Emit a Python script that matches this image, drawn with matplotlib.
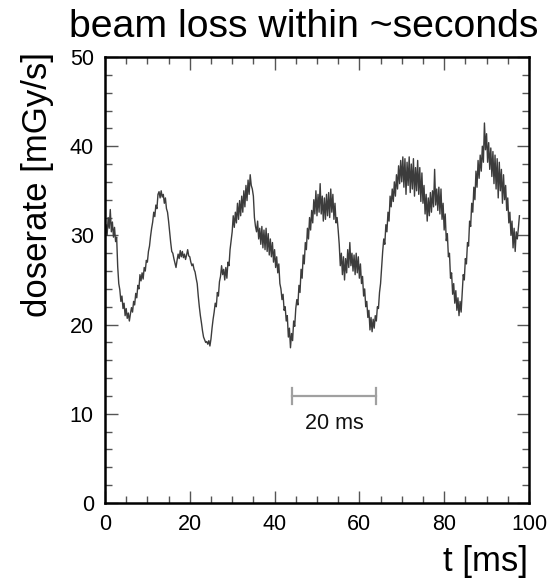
import numpy as np
import matplotlib
matplotlib.use("Agg")
import matplotlib.pyplot as plt
from matplotlib.ticker import MultipleLocator

plt.rcParams["font.family"] = ["Liberation Sans", "DejaVu Sans"]

# Dose rate samples, one every 0.25 ms (each row covers 5 ms)
dt_ms = 0.25
doserate = [
    29.6, 31.2, 30.0, 32.0, 30.8, 32.9, 30.4, 31.5, 29.8, 30.9, 29.3, 29.8, 26.5, 24.6, 23.9, 22.6, 23.2, 21.8, 22.4, 21.0,
    21.8, 20.7, 21.3, 20.4, 21.2, 21.9, 21.4, 22.6, 22.2, 23.5, 23.0, 24.4, 24.0, 25.6, 24.9, 25.8, 25.1, 26.4, 26.0, 27.2,
    27.0, 28.2, 28.8, 29.9, 30.8, 31.5, 32.6, 32.1, 33.4, 33.0, 34.6, 34.9, 34.2, 35.0, 34.3, 34.6, 33.6, 34.2, 33.0, 32.6,
    31.6, 30.4, 29.2, 28.2, 28.0, 27.4, 26.9, 26.4, 27.2, 27.9, 27.4, 28.3, 27.6, 28.2, 27.5, 27.9, 27.3, 27.8, 28.4, 27.7,
    27.6, 27.0, 26.6, 26.8, 26.2, 25.9, 25.2, 24.6, 23.2, 22.0, 21.0, 20.2, 19.3, 18.6, 18.3, 18.0, 18.1, 17.8, 18.2, 17.6,
    18.4, 19.6, 20.6, 21.4, 22.4, 22.0, 23.6, 23.2, 24.8, 25.4, 26.6, 25.6, 26.2, 25.0, 26.4, 25.2, 27.0, 26.6, 28.4, 29.4,
    30.4, 32.2, 30.9, 32.6, 31.4, 33.6, 31.8, 33.9, 32.2, 34.4, 32.6, 35.0, 33.2, 35.6, 33.9, 36.2, 34.6, 36.8, 35.6, 35.2,
    34.4, 32.0, 31.0, 30.4, 31.6, 29.6, 30.8, 29.0, 31.0, 28.6, 30.6, 28.4, 30.8, 28.2, 30.2, 27.8, 29.6, 27.6, 29.2, 27.0,
    28.4, 26.4, 27.6, 25.8, 26.8, 24.6, 24.0, 22.8, 23.4, 21.6, 22.0, 20.4, 21.0, 18.6, 19.6, 17.4, 19.0, 18.2, 20.4, 19.8,
    21.8, 22.8, 22.2, 24.4, 23.6, 26.2, 25.2, 27.8, 26.8, 29.2, 28.4, 30.8, 29.6, 32.0, 30.6, 32.8, 31.4, 34.0, 32.4, 35.0,
    32.2, 34.6, 32.6, 35.8, 32.4, 34.4, 31.6, 34.2, 31.8, 34.6, 32.2, 34.8, 32.0, 35.2, 32.6, 34.6, 31.8, 33.6, 31.4, 32.0,
    30.6, 29.0, 26.6, 28.0, 25.6, 27.6, 25.0, 27.4, 25.8, 28.4, 26.4, 29.2, 26.6, 28.0, 26.0, 27.8, 25.6, 28.0, 25.8, 27.6,
    25.2, 26.8, 24.6, 25.4, 23.2, 24.0, 22.0, 22.6, 20.8, 21.6, 19.4, 20.8, 19.2, 20.6, 19.6, 21.0, 20.4, 22.0, 21.8, 23.6,
    24.6, 26.4, 28.2, 29.6, 29.0, 31.2, 30.4, 32.6, 31.6, 34.4, 33.2, 35.2, 33.8, 36.0, 34.4, 36.8, 35.2, 37.8, 35.8, 38.4,
    36.0, 38.8, 35.4, 38.6, 34.6, 38.2, 35.6, 38.8, 34.8, 38.0, 35.2, 38.6, 34.4, 37.6, 35.0, 38.4, 34.6, 37.6, 33.8, 37.0,
    33.6, 35.6, 32.4, 34.6, 31.6, 34.2, 32.2, 34.8, 32.6, 35.0, 33.2, 37.4, 33.4, 35.2, 32.8, 35.4, 32.4, 35.2, 31.8, 33.6,
    30.6, 32.4, 29.4, 30.2, 27.6, 28.0, 25.2, 25.8, 23.4, 24.6, 22.4, 23.8, 21.6, 23.0, 21.0, 22.6, 21.4, 23.6, 25.6, 25.0,
    27.4, 26.8, 29.2, 28.8, 31.6, 31.0, 33.6, 32.6, 35.4, 34.0, 37.2, 35.4, 38.4, 36.4, 39.0, 37.2, 40.0, 38.2, 42.6, 39.6,
    41.4, 38.2, 40.4, 37.4, 39.8, 36.6, 39.4, 35.8, 39.0, 35.2, 38.6, 34.2, 38.2, 35.0, 37.4, 33.6, 36.8, 34.0, 35.6, 32.8,
    34.2, 31.4, 32.6, 30.0, 31.6, 28.6, 30.8, 28.2, 30.4, 29.6, 30.8, 32.2,
]
t_ms = np.arange(len(doserate)) * dt_ms

# Scale bar: start/end time and height, with its label
scalebar_t = [44.0, 64.0]
scalebar_y = 12.0
scalebar_label = "20 ms"

x_limits = (0, 100)
y_limits = (0, 50)

fig = plt.figure(figsize=(5.54, 5.78), dpi=100)
ax = fig.add_axes([0.1895, 0.1298, 0.7653, 0.7716])

ax.plot(t_ms, doserate, color="#3c3c3c", lw=1.0)

# scale bar with end caps
ax.plot(scalebar_t, [scalebar_y, scalebar_y], color="#a0a0a0", lw=1.6)
for tb in scalebar_t:
    ax.plot([tb, tb], [scalebar_y - 0.9, scalebar_y + 0.9], color="#a0a0a0", lw=1.6)
ax.text(np.mean(scalebar_t), scalebar_y - 3.1, scalebar_label, ha="center",
        va="center", fontsize=15.5, color="#111111")

ax.set_xlim(*x_limits)
ax.set_ylim(*y_limits)
ax.xaxis.set_major_locator(MultipleLocator(20))
ax.xaxis.set_minor_locator(MultipleLocator(5))
ax.yaxis.set_major_locator(MultipleLocator(10))
ax.yaxis.set_minor_locator(MultipleLocator(2))
ax.tick_params(which="both", direction="in", top=True, right=True,
               labelsize=15.5, color="#555555", width=1.0)
ax.tick_params(which="major", length=9, pad=8)
ax.tick_params(which="minor", length=5)
for s in ax.spines.values():
    s.set_linewidth(1.8)
    s.set_color("black")

fig.text(304 / 554, 1 - 27 / 578, "beam loss within ~seconds", ha="center",
         va="center", fontsize=28.3, color="black")
fig.text(38 / 554, 1 - 52 / 578, "doserate [mGy/s]", rotation=90, ha="center",
         va="top", fontsize=25, color="black")
fig.text(528 / 554, 1 - 561 / 578, "t [ms]", ha="right", va="center",
         fontsize=25, color="black")

fig.savefig("out.png", dpi=100)
